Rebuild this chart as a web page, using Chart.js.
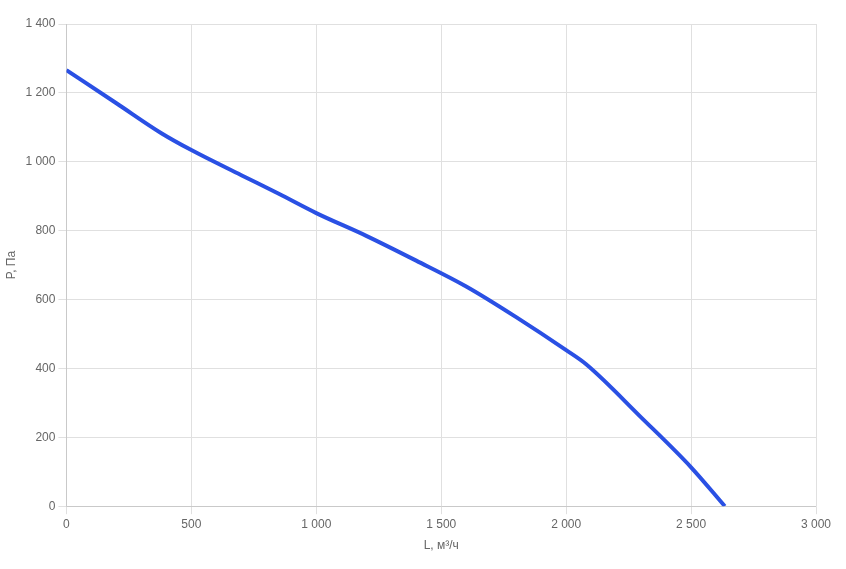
<!DOCTYPE html>
<html>
<head>
<meta charset="utf-8">
<script src="https://cdn.jsdelivr.net/npm/chart.js@4/dist/chart.umd.min.js"></script>
<style>
  html, body { margin: 0; padding: 0; background: #fff; }
  #wrap { width: 846px; height: 569px; }
</style>
</head>
<body>
<div id="wrap"><canvas id="grafica" width="846" height="569"></canvas></div>
<script>
// Расход воздуха, м³/ч
const flowValues = [0, 200, 380, 500, 700, 850, 1000, 1200, 1400, 1600, 1800, 2000, 2080, 2300, 2500, 2635];
// Давление, Па
const pressureValues = [1266, 1170, 1083, 1034, 961, 907, 851, 785, 713, 638, 549, 453, 412, 258, 113, 0];

const fmt = (v) => String(v).replace(/\B(?=(\d{3})+(?!\d))/g, " ");

const points = flowValues.map((x, i) => ({ x: x, y: pressureValues[i] }));

Chart.defaults.font.family = "'Liberation Sans', Arial, sans-serif";
Chart.defaults.font.size = 12;
Chart.defaults.color = "#666";

new Chart(document.getElementById("grafica").getContext("2d"), {
    type: "line",
    data: {
        datasets: [{
            data: points,
            borderColor: "#2a50e4",
            borderWidth: 4,
            pointRadius: 0,
            fill: false,
            cubicInterpolationMode: "monotone"
        }]
    },
    options: {
        responsive: false,
        animation: false,
        layout: { padding: { top: 24, right: 30, left: 0, bottom: 12 } },
        plugins: { legend: { display: false }, tooltip: { enabled: false } },
        scales: {
            x: {
                type: "linear",
                min: 0,
                max: 3000,
                ticks: { stepSize: 500, callback: fmt, maxRotation: 0 },
                grid: { color: "#e0e0e0" },
                title: { display: true, text: "L, м³/ч", color: "#666" }
            },
            y: {
                min: 0,
                max: 1400,
                ticks: { stepSize: 200, callback: fmt },
                grid: { color: "#e0e0e0" },
                title: { display: true, text: "P, Па", color: "#666" }
            }
        }
    }
});
</script>
</body>
</html>
